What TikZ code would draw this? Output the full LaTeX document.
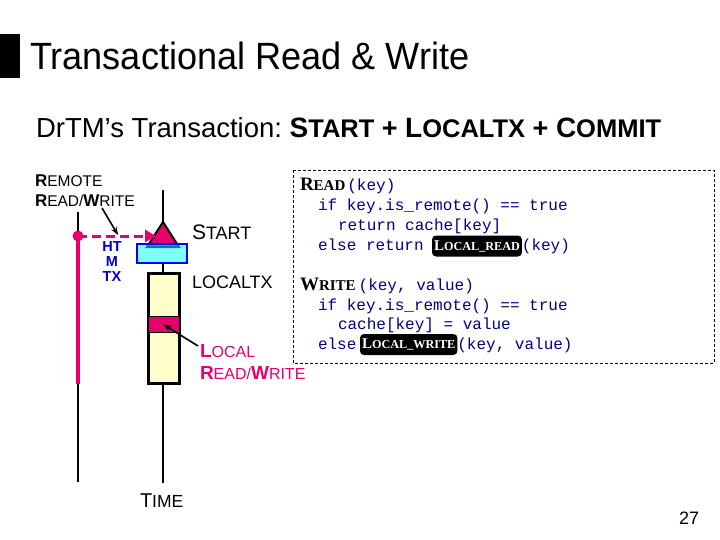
\documentclass[tikz,border=0pt]{standalone}
\usepackage{graphicx}
\usepackage{fontspec}
\setmainfont{Liberation Sans}
\newfontfamily\cmono{Liberation Mono}
\newfontfamily\cserif{Liberation Serif}
\usetikzlibrary{arrows.meta}
\definecolor{pinkc}{RGB}{230,0,110}
\definecolor{navyc}{RGB}{0,0,128}
\definecolor{htmblue}{RGB}{0,0,205}
\definecolor{ylw}{RGB}{255,255,204}
\definecolor{cyanc}{RGB}{0,255,255}
\definecolor{bluec}{RGB}{0,0,255}
\newcommand\fs[2]{{\fontsize{#1pt}{#1pt}\selectfont #2}}
\begin{document}
\begin{tikzpicture}[x=1pt,y=-1pt,
  txt/.style={anchor=base west, inner sep=0pt, outer sep=0pt},
  code/.style={txt, font=\cmono\fontsize{16pt}{16pt}\selectfont, text=navyc},
  kw/.style={txt, fill=black, text=white, rounded corners=4pt, inner xsep=2pt, inner ysep=0pt, anchor=west, font=\cserif\bfseries},
  tline/.style={line width=2pt, draw=black},
  callout/.style={line width=1.6pt, -{Stealth[length=8pt,width=6pt]}}]
\useasboundingbox (0,0) rectangle (720,540);
% title
\fill[black] (0,34) rectangle (20,78);
\node[txt] (title) at (30,70) {\fs{38}{\scalebox{0.95}[1]{Transactional Read \& Write}}};
\node[txt] (sub) at (36,138) {\fs{27.5}{DrTM’s Transaction:\ }{\bfseries\fs{28}{S}\fs{25.5}{TART}\fs{27}{\ +\ }\fs{28}{L}\fs{25.5}{OCALTX}\fs{27}{\ +\ }\fs{28}{C}\fs{25.5}{OMMIT}}};
% remote timeline
\coordinate (rtop) at (78,212);
\coordinate (rdot) at (78,236);
\coordinate (rbot) at (78,384);
\coordinate (rend) at (78,482);
\draw[tline] (rtop) -- (rdot);
\draw[tline] (rbot) -- (rend);
\draw[pinkc, line width=4.5pt] (rdot) -- (rbot);
\fill[pinkc] (rdot) circle (5.5);
% local timeline
\coordinate (ltop) at (163,190);
\coordinate (tapex) at (163,222);
\coordinate (tbl) at (147,247);
\coordinate (tbr) at (179,247);
\draw[tline] (ltop) -- (tapex);
\filldraw[fill=pinkc, draw=black, line width=2pt, line join=miter] (tapex) -- (tbl) -- (tbr) -- cycle;
\node[draw=bluec, line width=2.5pt, fill=cyanc, fill opacity=0.5, minimum width=50pt, minimum height=19pt, inner sep=0pt] (htm) at (162,253.5) {};
\node[draw=black, line width=3pt, fill=ylw, minimum width=31pt, minimum height=110pt, inner sep=0pt] (ltx) at (163.5,328) {};
\node[draw=black, line width=1.5pt, fill=pinkc, minimum width=31.5pt, minimum height=16pt, inner sep=0pt] (band) at (163.5,324.5) {};
\coordinate (lend) at (163,483);
\draw[tline] (htm.south -| ltop) -- (ltx.north -| ltop);
\draw[tline] (ltx.south -| ltop) -- (lend);
% dashed remote access
\coordinate (dashend) at (156,236);
\draw[pinkc, line width=3pt, dash pattern=on 9pt off 5pt, -{Triangle[length=11pt,width=12pt]}] (rdot) -- (dashend);
% labels
\node[txt] (rem1) at (35,187) {{\bfseries\fs{17}{R}}\fs{15.5}{EMOTE}};
\node[txt] (rem2) at (35,207) {{\bfseries\fs{17}{R}}\fs{15.5}{EAD/}{\bfseries\fs{17}{W}}\fs{15.5}{RITE}};
\coordinate (remtip) at (118,235);
\draw[callout] (102,208) -- (remtip);
\node[anchor=north, inner sep=0pt, align=center, text=htmblue, font=\bfseries\fontsize{14.5pt}{15.3pt}\selectfont] (htmtxt) at (112,241) {HT\\M\\TX};
\node[txt] (start) at (192,240) {\fs{21}{S}\fs{18}{TART}};
\node[txt] (localtx) at (192,288) {\fs{18}{LOCALTX}};
\node[txt, text=pinkc] (lrw1) at (200,357) {{\bfseries\fs{19}{L}}\fs{16}{OCAL}};
\node[txt, text=pinkc] (lrw2) at (200,379) {{\bfseries\fs{19}{R}}\fs{16}{EAD/}{\bfseries\fs{19}{W}}\fs{16}{RITE}};
\coordinate (lrwstart) at (198,346);
\draw[callout] (lrwstart) -- (band.center);
\node[txt] (time) at (140,507) {\fs{20}{T}\fs{17.5}{IME}};
\node[txt] (pg) at (679,524) {\fs{18}{27}};
% code box
\draw[dashed, dash pattern=on 3pt off 2pt, line width=0.8pt] (293,170) rectangle (714,363);
\node[txt] (c1) at (300,191) {{\cserif\bfseries\fs{19}{R}\fs{15}{EAD}}\kern2pt{\cmono\color{navyc}\fs{16}{(key)}}};
\node[code] (c2) at (318,211) {if key.is\_remote() == true};
\node[code] (c3) at (338,230) {return cache[key]};
\node[code] (c4) at (318,250) {else return};
\node[kw, minimum height=21pt] (kr) at (432,246) {\fs{15}{L}\fs{12.2}{OCAL\_READ}};
\node[code] (c4b) at (kr.east |- c4.base) {(key)};
\node[txt] (c5) at (300,290) {{\cserif\bfseries\fs{19}{W}\fs{15}{RITE}}\kern3pt{\cmono\color{navyc}\fs{16}{(key, value)}}};
\node[code] (c6) at (318,310) {if key.is\_remote() == true};
\node[code] (c7) at (338,329) {cache[key] = value};
\node[code] (c8) at (318,349) {else};
\node[kw, minimum height=21pt] (kw) at (360,344.5) {\fs{15}{L}\fs{12.2}{OCAL\_WRITE}};
\node[code] (c8b) at (kw.east |- c8.base) {(key, value)};
\end{tikzpicture}
\end{document}
